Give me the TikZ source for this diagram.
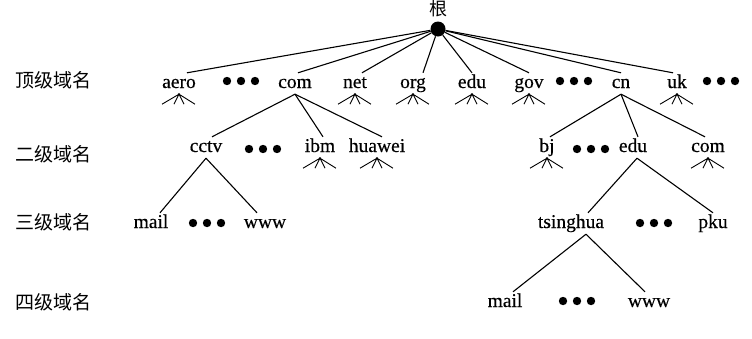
\documentclass[tikz,border=0pt]{standalone}
\usepackage{fontspec}
\setmainfont{Liberation Serif}[FakeBold=0.4]
\newfontfamily\cjk{Noto Sans CJK SC}
\begin{document}
\begin{tikzpicture}[x=1pt,y=-1pt,
  lbl/.style={font=\fontsize{19.5}{20}\selectfont, anchor=base, inner sep=2pt, text height=13pt, text depth=4pt},
  lvl/.style={font=\cjk\fontsize{19}{20}\selectfont, anchor=west, inner sep=0pt},
  edge/.style={line width=1.1pt},
  fanmark/.pic={\draw[line width=0.9pt] (-17,10) -- (0,0) -- (-5,10) (5,10) -- (0,0) -- (16,10);},
  threedots/.pic={\foreach \d in {-14,0,14} \fill (\d,0) circle (4.2);}
]
\useasboundingbox (0,0) rectangle (752,338);

% level labels
\node[lvl] (l1) at (15,80) {顶级域名};
\node[lvl] (l2) at (15,154) {二级域名};
\node[lvl] (l3) at (15,222) {三级域名};
\node[lvl] (l4) at (15,302) {四级域名};

% root
\node[circle, fill, inner sep=0pt, minimum size=15pt] (root) at (438,29) {};
\node[font=\cjk\fontsize{18}{18}\selectfont, inner sep=0pt] (rootlbl) at (438,9) {根};

% top level
\node[lbl] (aero) at (179,88) {aero};
\node[lbl] (com) at (295,88) {com};
\node[lbl] (net) at (355,88) {net};
\node[lbl] (org) at (413,88) {org};
\node[lbl] (edu) at (472,88) {edu};
\node[lbl] (gov) at (529,88) {gov};
\node[lbl] (cn) at (621,88) {cn};
\node[lbl] (uk) at (677,88) {uk};
\pic at (241,81) {threedots};
\pic at (574,81) {threedots};
\pic at (721,81) {threedots};

\draw[edge] (root) -- ([xshift=8pt]aero.north);
\draw[edge] (root) -- ([xshift=3pt]com.north);
\draw[edge] (root) -- ([xshift=7pt]net.north);
\draw[edge] (root) -- ([xshift=10pt]org.north);
\draw[edge] (root) -- (edu.north);
\draw[edge] (root) -- (gov.north);
\draw[edge] (root) -- (cn.north);
\draw[edge] (root) -- ([xshift=-4pt]uk.north);

\pic at (aero.south) {fanmark};
\pic at (net.south) {fanmark};
\pic at (org.south) {fanmark};
\pic at (edu.south) {fanmark};
\pic at (gov.south) {fanmark};
\pic at (uk.south) {fanmark};

% second level
\node[lbl] (cctv) at (206,152) {cctv};
\node[lbl] (ibm) at (320,152) {ibm};
\node[lbl] (huawei) at (377,152) {huawei};
\node[lbl] (bj) at (547,152) {bj};
\node[lbl] (edu2) at (633,152) {edu};
\node[lbl] (com2) at (708,152) {com};
\pic at (263,149) {threedots};
\pic at (591,149) {threedots};

\draw[edge] (com.south) -- ([xshift=6pt]cctv.north);
\draw[edge] (com.south) -- ([xshift=3pt]ibm.north);
\draw[edge] (com.south) -- ([xshift=5pt]huawei.north);
\draw[edge] (cn.south) -- ([xshift=3pt]bj.north);
\draw[edge] (cn.south) -- ([xshift=5pt]edu2.north);
\draw[edge] (cn.south) -- ([xshift=-3pt]com2.north);

\pic at (ibm.south) {fanmark};
\pic at (huawei.south) {fanmark};
\pic at (bj.south) {fanmark};
\pic at (com2.south) {fanmark};

% third level
\node[lbl] (mail) at (151,228) {mail};
\node[lbl] (www) at (265,228) {www};
\node[lbl] (tsinghua) at (571,228) {tsinghua};
\node[lbl] (pku) at (713,228) {pku};
\pic at (207,223) {threedots};
\pic at (654,223) {threedots};

\draw[edge] (cctv.south) -- ([xshift=9pt]mail.north);
\draw[edge] (cctv.south) -- ([xshift=-8pt]www.north);
\draw[edge] ([xshift=4pt]edu2.south) -- ([xshift=17pt]tsinghua.north);
\draw[edge] ([xshift=4pt]edu2.south) -- (pku.north);

% fourth level
\node[lbl] (mail2) at (505,307) {mail};
\node[lbl] (www2) at (649,307) {www};
\pic at (577,301) {threedots};

\draw[edge] ([xshift=15pt]tsinghua.south) -- ([xshift=8pt]mail2.north);
\draw[edge] ([xshift=15pt]tsinghua.south) -- ([xshift=-4pt]www2.north);
\end{tikzpicture}
\end{document}
